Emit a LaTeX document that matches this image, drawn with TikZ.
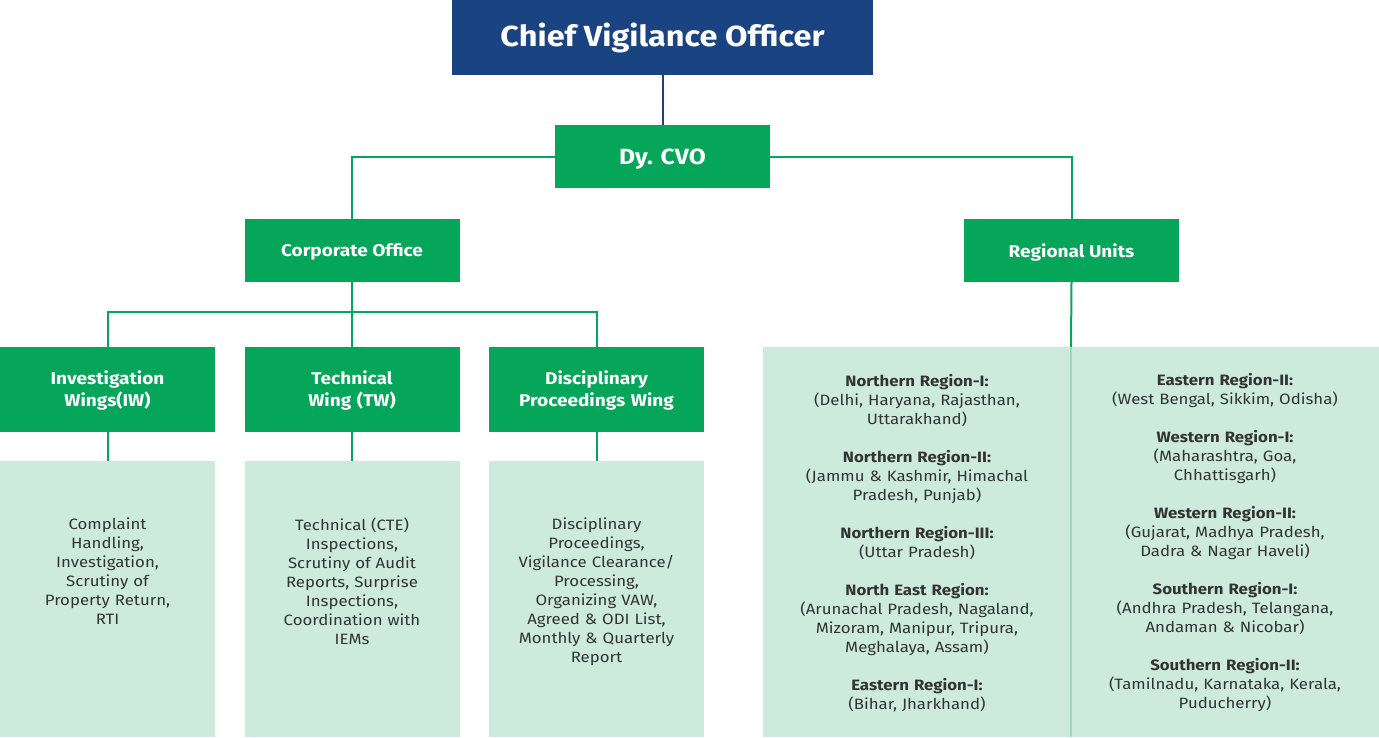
\documentclass[tikz,border=0pt]{standalone}
\usepackage{fontspec}
\setmainfont{Fira Sans}[FakeStretch=1.12]
\usetikzlibrary{positioning}

\definecolor{cvoblue}{HTML}{1A4381}
\definecolor{cvogreen}{HTML}{05A659}
\definecolor{cvolight}{HTML}{CCEBDD}
\definecolor{cvodivider}{HTML}{9CDABE}
\definecolor{cvotext}{HTML}{333333}

\tikzset{
  topbox/.style={fill=cvoblue, text=white, inner sep=0pt, minimum width=421pt,
    minimum height=75pt, font=\bfseries\fontsize{29}{33}\selectfont},
  headbox/.style={fill=cvogreen, text=white, inner sep=0pt, minimum width=215pt,
    minimum height=63pt, text depth=0pt, font=\bfseries\fontsize{17}{22}\selectfont},
  wingbox/.style={headbox, minimum height=85pt, text width=205pt, align=center,
    text height=12pt, text depth=21.5pt},
  descbox/.style={fill=cvolight, inner sep=0pt, minimum width=215pt, minimum height=276pt},
  desctext/.style={text=cvotext, inner sep=0pt, text width=205pt, align=center,
    font=\fontsize{15}{19}\selectfont},
  link/.style={draw=cvogreen, line width=2pt},
}

\begin{document}
\begin{tikzpicture}[x=1pt, y=-1pt]
  \useasboundingbox (0,0) rectangle (1379,737);

  % top of the chart
  \node[topbox] (cvo) at (662.5,37.5) {Chief Vigilance Officer};
  \node[headbox, font=\bfseries\fontsize{22}{26}\selectfont] (dycvo) at (662.5,156.5) {Dy. CVO};
  \node[headbox] (corp) at (352,250.5) {Corporate Office};
  \node[headbox] (reg) at (1071.5,250.5) {Regional Units};

  \draw[draw=cvoblue, line width=2pt] (cvo.south) -- (dycvo.north);
  \draw[link] (dycvo.west) -| (corp.north);
  \draw[link] (dycvo.east) -| (reg.north);

  % wings under the corporate office
  \node[wingbox] (iw) at (107.5,389.5) {Investigation\\Wings(IW)};
  \node[wingbox] (tw) at (352,389.5) {Technical\\Wing (TW)};
  \node[wingbox] (dpw) at (596.5,389.5) {Disciplinary\\Proceedings Wing};

  \coordinate (wbus) at (352,312);
  \draw[link] (corp.south) -- (tw.north);
  \draw[link] (iw.north) |- (wbus) -| (dpw.north);

  % what each wing does
  \node[descbox] (iwd) at (107.5,599) {};
  \node[descbox] (twd) at (352,599) {};
  \node[descbox] (dpwd) at (596.5,599) {};

  \draw[link] (iw.south) -- (iwd.north);
  \draw[link] (tw.south) -- (twd.north);
  \draw[link] (dpw.south) -- (dpwd.north);

  \node[desctext, anchor=north] (iwt) at (107.5,518) {Complaint\\Handling,\\Investigation,\\Scrutiny of\\Property Return,\\RTI};
  \node[desctext, anchor=north] (twt) at (352,518) {Technical (CTE)\\Inspections,\\Scrutiny of Audit\\Reports, Surprise\\Inspections,\\Coordination with\\IEMs};
  \node[desctext, anchor=north] (dpwt) at (596.5,518) {Disciplinary\\Proceedings,\\Vigilance Clearance/\\Processing,\\Organizing VAW,\\Agreed \& ODI List,\\Monthly \& Quarterly\\Report};

  % regional units
  \node[descbox, minimum width=616pt, minimum height=390pt] (regd) at (1071,542) {};
  \draw[link] (reg.south) -- (regd.north);
  \draw[draw=cvodivider, line width=1.5pt] (regd.north) -- (regd.south);

  \node[desctext, text width=295pt] (regl) at (917,543) {%
    \textbf{Northern Region-I:}\\(Delhi, Haryana, Rajasthan,\\Uttarakhand)\\[19pt]
    \textbf{Northern Region-II:}\\(Jammu \& Kashmir, Himachal\\Pradesh, Punjab)\\[19pt]
    \textbf{Northern Region-III:}\\(Uttar Pradesh)\\[19pt]
    \textbf{North East Region:}\\(Arunachal Pradesh, Nagaland,\\Mizoram, Manipur, Tripura,\\Meghalaya, Assam)\\[19pt]
    \textbf{Eastern Region-I:}\\(Bihar, Jharkhand)};
  \node[desctext, text width=295pt] (regr) at (1225,543) {%
    \textbf{Eastern Region-II:}\\(West Bengal, Sikkim, Odisha)\\[19pt]
    \textbf{Western Region-I:}\\(Maharashtra, Goa,\\Chhattisgarh)\\[19pt]
    \textbf{Western Region-II:}\\(Gujarat, Madhya Pradesh,\\Dadra \& Nagar Haveli)\\[19pt]
    \textbf{Southern Region-I:}\\(Andhra Pradesh, Telangana,\\Andaman \& Nicobar)\\[19pt]
    \textbf{Southern Region-II:}\\(Tamilnadu, Karnataka, Kerala,\\Puducherry)};
\end{tikzpicture}
\end{document}
